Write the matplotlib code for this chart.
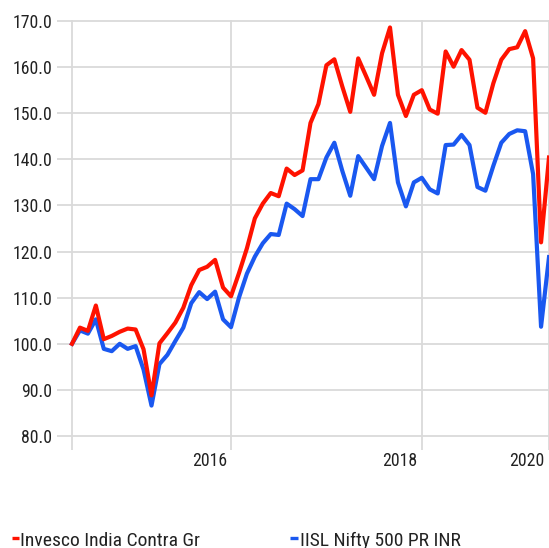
import matplotlib
matplotlib.use('Agg')
import matplotlib.pyplot as plt
from matplotlib.lines import Line2D
import numpy as np
import logging

logging.getLogger('matplotlib.font_manager').setLevel(logging.ERROR)

# Monthly growth of 100 (Apr 2015 .. Apr 2020)
fund_name = 'Invesco India Contra Gr'
index_name = 'IISL Nifty 500 PR INR'

fund = [100.0, 103.5, 102.8, 108.3, 101.0, 101.7, 102.6, 103.3, 103.1, 98.8,
        88.8, 100.1, 102.3, 104.6, 107.8, 112.7, 116.0, 116.7, 118.2, 112.2,
        110.3, 115.3, 120.7, 127.2, 130.4, 132.7, 132.0, 138.0, 136.6, 137.6,
        147.9, 152.0, 160.4, 161.7, 155.8, 150.3, 161.9, 158.0, 154.0, 163.0,
        168.6, 154.0, 149.4, 154.0, 155.0, 150.8, 149.9, 163.4, 160.1, 163.7,
        161.6, 151.2, 150.1, 156.5, 161.6, 163.9, 164.3, 167.8, 161.9, 122.0,
        140.4]

bench = [100.0, 102.9, 102.2, 105.3, 98.9, 98.4, 100.0, 98.9, 99.5, 94.4,
         86.6, 95.6, 97.6, 100.6, 103.5, 108.8, 111.2, 109.7, 111.3, 105.3,
         103.6, 110.0, 115.2, 118.9, 121.8, 123.8, 123.6, 130.4, 129.2, 127.7,
         135.7, 135.7, 140.4, 143.6, 137.5, 132.1, 140.7, 138.2, 135.7, 142.9,
         147.9, 135.0, 129.8, 135.0, 136.0, 133.5, 132.6, 143.1, 143.2, 145.3,
         143.1, 134.0, 133.2, 138.6, 143.6, 145.5, 146.3, 146.1, 136.8, 103.7,
         118.8]

year_ticks = [20, 44, 60]      # month index of the year marks
year_labels = ['2016', '2018', '2020']
y_ticks = [80, 90, 100, 110, 120, 130, 140, 150, 160, 170]

RED = '#FF1200'
BLUE = '#1A58F0'
GRID = '#DADADA'
TXT = '#222222'
# narrow face if there is one, else Arial-like Liberation Sans
FONT = ['Roboto Condensed', 'Liberation Sans Narrow', 'Liberation Sans']
FS = 12.8      # tick labels
FS_LEG = 14.0  # legend
W, H = 549, 548

fig = plt.figure(figsize=(W / 100, H / 100), dpi=100)
ax = fig.add_axes([57 / W, (H - 450) / H, (W - 57) / W, (450 - 20) / H])

months = np.arange(len(fund))

# grid
for y in y_ticks:
    ax.axhline(y, color=GRID, lw=1.3, zorder=0)
for x in [0] + year_ticks:
    ax.axvline(x, color=GRID, lw=1.3, zorder=0)

ax.plot(months, bench, color=BLUE, lw=3.0, zorder=3)
ax.plot(months, fund, color=RED, lw=3.0, zorder=4)

ax.set_xlim(-15 / 7.95, 60)
ax.set_ylim(170 - 430 / 4.611 + 0.22, 170.22)

for s in ax.spines.values():
    s.set_visible(False)

ax.set_xticks([])
ax.set_yticks(y_ticks)
ax.set_yticklabels(['%.1f' % v for v in y_ticks], family=FONT, fontsize=FS,
                   color=TXT)
ax.tick_params(axis='y', length=0, pad=3.6)

for pos, lab in zip(year_ticks, year_labels):
    ax.annotate(lab, xy=(pos, 0), xycoords=('data', 'axes fraction'),
                xytext=(-3, -1.2), textcoords='offset points',
                ha='right', va='top', family=FONT, fontsize=FS, color=TXT)

# legend along the bottom
base_y = 2.2 / H
dash_y = (H - 537.5) / H
fig.add_artist(Line2D([11.5 / W, 19 / W], [dash_y, dash_y], color=RED,
                      lw=2.4, solid_capstyle='butt'))
fig.text(20.5 / W, base_y, fund_name, family=FONT, fontsize=FS_LEG,
         color=TXT, va='baseline', ha='left')
fig.add_artist(Line2D([290 / W, 297.5 / W], [dash_y, dash_y], color=BLUE,
                      lw=2.4, solid_capstyle='butt'))
fig.text(299.5 / W, base_y, index_name, family=FONT, fontsize=FS_LEG,
         color=TXT, va='baseline', ha='left')

fig.savefig('out.png', dpi=100)
